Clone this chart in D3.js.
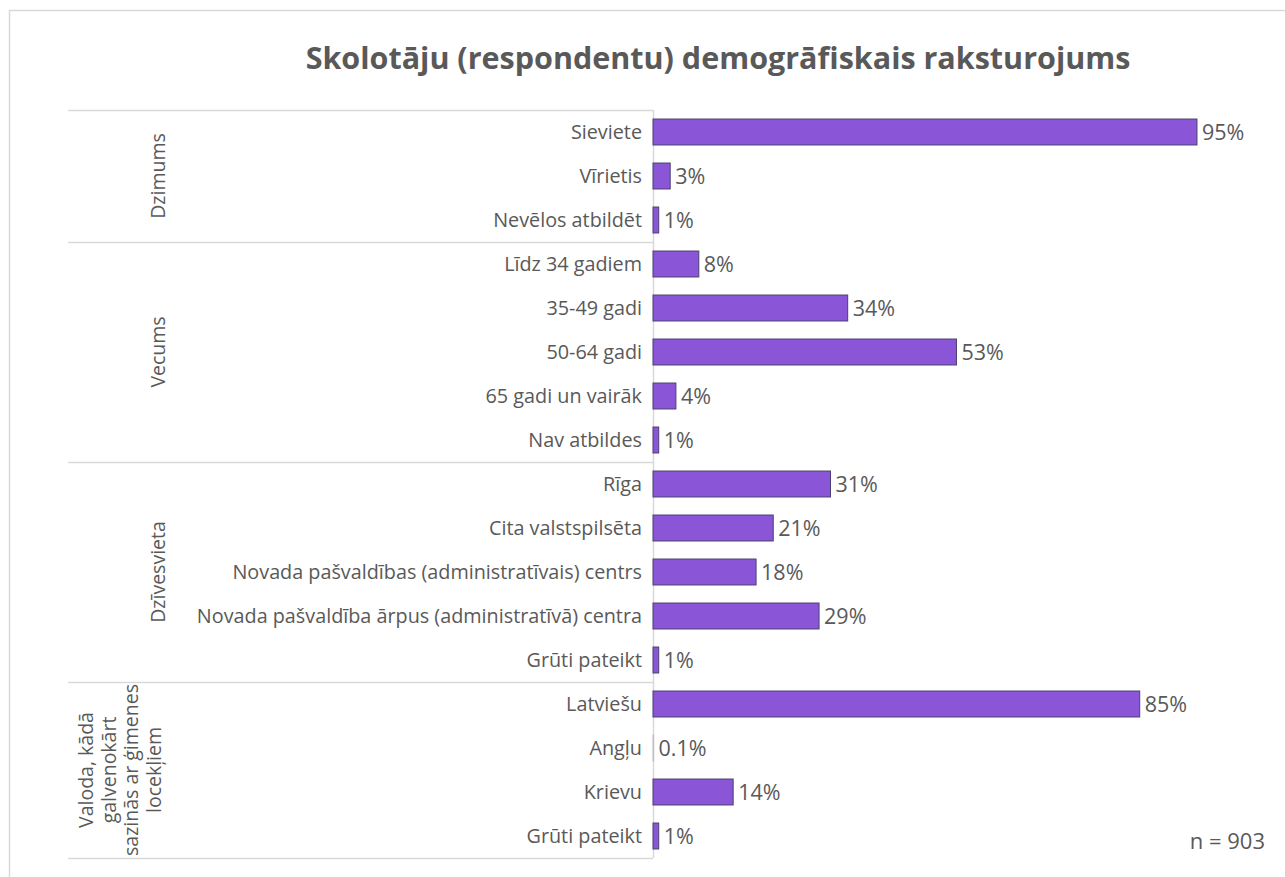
<!DOCTYPE html>
<html><head><meta charset="utf-8">
<script src="https://cdn.jsdelivr.net/npm/d3@7"></script>
<style>
html,body{margin:0;padding:0;background:#fff;}
svg{display:block;font-family:"Open Sans","Noto Sans",sans-serif;}
</style></head>
<body>
<svg id="chart" width="1285" height="877"></svg>
<script>
const title = "Skolotāju (respondentu) demogrāfiskais raksturojums";
const groupLabels = [
  ["Dzimums"],
  ["Vecums"],
  ["Dzīvesvieta"],
  ["Valoda, kādā", "galvenokārt", "sazinās ar ģimenes", "locekļiem"]
];
const categories = [
  "Sieviete", "Vīrietis", "Nevēlos atbildēt",
  "Līdz 34 gadiem", "35-49 gadi", "50-64 gadi", "65 gadi un vairāk", "Nav atbildes",
  "Rīga", "Cita valstspilsēta ", "Novada pašvaldības (administratīvais) centrs", "Novada pašvaldība ārpus (administratīvā) centra", "Grūti pateikt",
  "Latviešu", "Angļu", "Krievu", "Grūti pateikt"
];
const groupOf = [0,0,0, 1,1,1,1,1, 2,2,2,2,2, 3,3,3,3];
const values = [95, 3, 1, 8, 34, 53, 4, 1, 31, 21, 18, 29, 1, 85, 0.1, 14, 1];
const valueLabels = ["95%","3%","1%","8%","34%","53%","4%","1%","31%","21%","18%","29%","1%","85%","0.1%","14%","1%"];
const note = "n = 903";

const svg = d3.select("#chart");
const textColor = "#595959";
const gridColor = "#d9d9d9";

svg.append("rect").attr("x", 9.5).attr("y", 10.5).attr("width", 1290).attr("height", 890)
  .attr("fill", "none").attr("stroke", "#d9d9d9").attr("stroke-width", 1.5);

svg.append("text").attr("x", 718).attr("y", 69).attr("text-anchor", "middle")
  .attr("font-size", 30.5).attr("font-weight", 700).attr("fill", textColor).text(title);

const axisX = 653;
const plotTop = 110, plotBottom = 858;
const y = d3.scaleBand().domain(d3.range(categories.length)).range([plotTop, plotBottom])
  .paddingInner(0.41).paddingOuter(0.205);
const x = d3.scaleLinear().domain([0, 100]).range([axisX, axisX + 572.6]);
const step = y.step();
const gap = (step - y.bandwidth()) / 2;

const groupStarts = [];
groupOf.forEach((g, i) => { if (i === 0 || groupOf[i-1] !== g) groupStarts.push(i); });
const sepYs = groupStarts.map(i => y(i) - gap);
sepYs.push(plotBottom);
svg.selectAll("line.sep").data(sepYs).join("line").attr("class", "sep")
  .attr("x1", 68).attr("x2", axisX).attr("y1", d => Math.round(d) + 0.5).attr("y2", d => Math.round(d) + 0.5)
  .attr("stroke", gridColor).attr("stroke-width", 1.5);

svg.append("line").attr("x1", axisX + 0.5).attr("x2", axisX + 0.5).attr("y1", plotTop).attr("y2", plotBottom)
  .attr("stroke", gridColor).attr("stroke-width", 1.5);

svg.selectAll("rect.bar").data(values).join("rect").attr("class", "bar")
  .attr("x", x(0)).attr("y", (d, i) => y(i))
  .attr("width", d => Math.max(x(d) - x(0), 0.6)).attr("height", y.bandwidth())
  .attr("fill", "#8b55d7").attr("stroke", d => d < 0.5 ? "#bfbfbf" : "#4a4270").attr("stroke-width", 1);

svg.selectAll("text.val").data(values).join("text").attr("class", "val")
  .attr("x", d => x(d) + 5).attr("y", (d, i) => y(i) + y.bandwidth() / 2)
  .attr("dy", "0.36em").attr("font-size", 21.5).attr("fill", textColor)
  .text((d, i) => valueLabels[i]);

svg.selectAll("text.cat").data(categories).join("text").attr("class", "cat")
  .attr("x", 642).attr("y", (d, i) => y(i) + y.bandwidth() / 2)
  .attr("dy", "0.36em").attr("text-anchor", "end").attr("font-size", 19.8).attr("fill", textColor)
  .text(d => d);

groupLabels.forEach((lines, g) => {
  const idx = groupOf.map((gg, i) => gg === g ? i : -1).filter(i => i >= 0);
  const y0 = y(idx[0]) - gap;
  const y1 = y(idx[idx.length - 1]) + y.bandwidth() + gap;
  const cy = (y0 + y1) / 2;
  const lh = 22.5;
  const cx = lines.length > 1 ? 120 : 158;
  lines.forEach((ln, k) => {
    const lx = cx + (k - (lines.length - 1) / 2) * lh;
    svg.append("text").attr("transform", `translate(${lx},${cy}) rotate(-90)`)
      .attr("text-anchor", "middle").attr("dy", "0.36em").attr("font-size", 19.5)
      .attr("fill", textColor).text(ln);
  });
});

svg.append("text").attr("x", 1265).attr("y", 841).attr("dy", "0.36em").attr("text-anchor", "end")
  .attr("font-size", 22).attr("fill", textColor).text(note);
</script>
</body></html>
